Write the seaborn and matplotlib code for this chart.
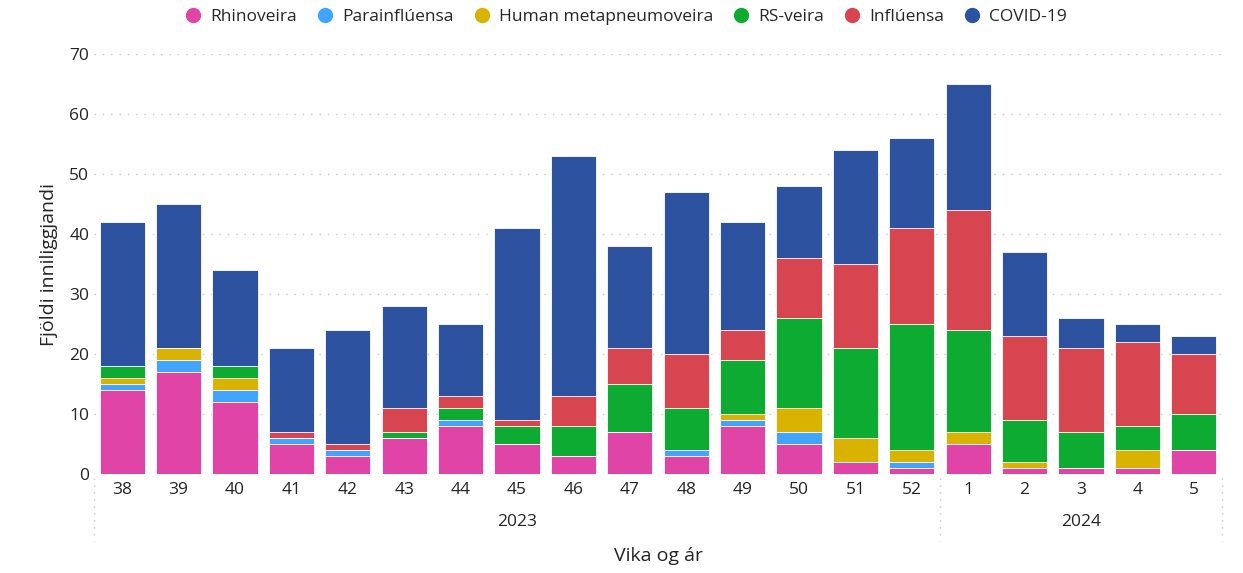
import numpy as np
import pandas as pd
import seaborn as sns
import matplotlib.pyplot as plt
from matplotlib.lines import Line2D

weeks = ['38', '39', '40', '41', '42', '43', '44', '45', '46', '47',
         '48', '49', '50', '51', '52', '1', '2', '3', '4', '5']
years = ['2023'] * 15 + ['2024'] * 5

rhino = [14, 17, 12, 5, 3, 6, 8, 5, 3, 7, 3, 8, 5, 2, 1, 5, 1, 1, 1, 4]
para = [1, 2, 2, 1, 1, 0, 1, 0, 0, 0, 1, 1, 2, 0, 1, 0, 0, 0, 0, 0]
hmpv = [1, 2, 2, 0, 0, 0, 0, 0, 0, 0, 0, 1, 4, 4, 2, 2, 1, 0, 3, 0]
rsv = [2, 0, 2, 0, 0, 1, 2, 3, 5, 8, 7, 9, 15, 15, 21, 17, 7, 6, 4, 6]
influ = [0, 0, 0, 1, 1, 4, 2, 1, 5, 6, 9, 5, 10, 14, 16, 20, 14, 14, 14, 10]
covid = [24, 24, 16, 14, 19, 17, 12, 32, 40, 17, 27, 18, 12, 19, 15, 21, 14, 5, 3, 3]

series = ['Rhinoveira', 'Parainflúensa', 'Human metapneumoveira', 'RS-veira', 'Inflúensa', 'COVID-19']
colors = ['#E044A7', '#41A4FF', '#D9B300', '#0EAB33', '#D64550', '#2D52A0']

df = pd.DataFrame({'vika': [f'{y}-{w}' for y, w in zip(years, weeks)],
                   'Rhinoveira': rhino, 'Parainflúensa': para,
                   'Human metapneumoveira': hmpv, 'RS-veira': rsv,
                   'Inflúensa': influ, 'COVID-19': covid})

sns.set_style('white')
plt.rcParams['font.family'] = ['Open Sans', 'DejaVu Sans']

fig = plt.figure(figsize=(12.43, 5.73), dpi=100)
ax = fig.add_axes([94 / 1243, 99 / 573, (1222 - 94) / 1243, (474 - 54) / 573])

# stacked bars: draw cumulative totals from the top series down
cum = df[series].cumsum(axis=1)
for name, col in reversed(list(zip(series, colors))):
    sns.barplot(x=df['vika'], y=cum[name], color=col, width=0.8,
                edgecolor='#ffffff', linewidth=0.6, saturation=1, ax=ax)

ax.set_ylim(0, 70)
ax.set_xlim(-0.5, len(weeks) - 0.5)
ax.set_yticks(range(0, 71, 10))
ax.set_xticks(range(len(weeks)))
ax.set_xticklabels(weeks)
ax.tick_params(axis='both', length=0, labelsize=12.5, colors='#252423')
ax.tick_params(axis='x', pad=6)
ax.yaxis.grid(True, color='#c8c8c8', linestyle=(0, (1, 5)), linewidth=1)
ax.set_axisbelow(True)
sns.despine(ax=ax, left=True, bottom=True)

ax.set_xlabel('')
ax.set_ylabel('Fjöldi inniliggjandi', fontsize=14, color='#252423', labelpad=8)

# year labels and separators
ax.text(7, -0.115, '2023', transform=ax.get_xaxis_transform(), ha='center', va='center',
        fontsize=12.5, color='#252423')
ax.text(17, -0.115, '2024', transform=ax.get_xaxis_transform(), ha='center', va='center',
        fontsize=12.5, color='#252423')
for xs in [-0.5, 14.5, 19.5]:
    ax.plot([xs, xs], [-0.01, -0.16], transform=ax.get_xaxis_transform(), clip_on=False,
            color='#c8c8c8', linestyle=(0, (1, 4)), linewidth=1)

fig.text((94 + 1222) / 2 / 1243, 1 - 556 / 573, 'Vika og ár', ha='center', va='center',
         fontsize=14, color='#252423')

handles = [Line2D([], [], marker='o', linestyle='', markersize=10, color=c) for c in colors]
fig.legend(handles, series, loc='center', bbox_to_anchor=(0.5, 1 - 17 / 573), ncol=6,
           frameon=False, fontsize=12.5, handletextpad=0.0, columnspacing=0.6)

fig.savefig('out.png', dpi=100)
